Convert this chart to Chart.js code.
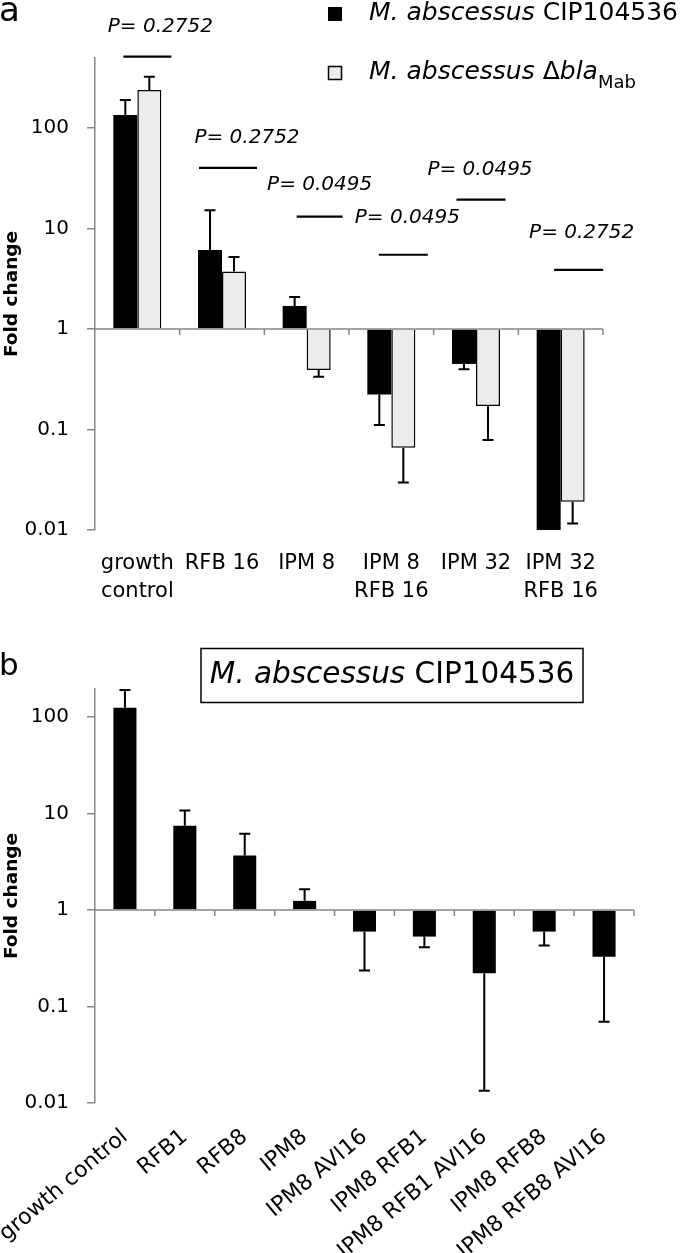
<!DOCTYPE html>
<html>
<head>
<meta charset="utf-8">
<script src="https://cdn.jsdelivr.net/npm/chart.js@4.4.1/dist/chart.umd.min.js"></script>
<style>
  html, body { margin:0; padding:0; background:#fff; }
  #wrap { position:relative; width:680px; height:1253px; overflow:hidden; }
  .panel { position:absolute; left:0; width:680px; }
  #pa { top:0; height:615px; }
  #pb { top:630px; height:623px; }
</style>
</head>
<body>
<div id="wrap">
  <div class="panel" id="pa"><canvas id="chartA"></canvas></div>
  <div class="panel" id="pb"><canvas id="chartB"></canvas></div>
</div>
<script>
// ---- panel a ----
const catsA = [['growth', 'control'], 'RFB 16', 'IPM 8', ['IPM 8', 'RFB 16'], 'IPM 32', ['IPM 32', 'RFB 16']];
const wildType = [134, 6.1, 1.69, 0.223, 0.448, 0.01];
const wildTypeErr = [189, 15.1, 2.07, 0.111, 0.397, null];   // end of error bar
const blaMutant = [237, 3.72, 0.391, 0.0657, 0.171, 0.0191];
const blaMutantErr = [322, 5.18, 0.335, 0.0297, 0.0784, 0.0116];
const pValues = ['0.2752', '0.2752', '0.0495', '0.0495', '0.0495', '0.2752'];

// ---- panel b ----
const catsB = ['growth control', 'RFB1', 'RFB8', 'IPM8', 'IPM8 AVI16', 'IPM8 RFB1', 'IPM8 RFB1 AVI16', 'IPM8 RFB8', 'IPM8 RFB8 AVI16'];
const cip = [124, 7.42, 3.65, 1.24, 0.596, 0.529, 0.221, 0.596, 0.328];
const cipErr = [189, 10.7, 6.13, 1.64, 0.235, 0.41, 0.0134, 0.427, 0.0696];

const yTicks = [0.01, 0.1, 1, 10, 100];
const yTickText = ['0.01', '0.1', '1', '10', '100'];

// where the P brackets sit (level in data units, shifts in px)
const pLineAt = [510, 40, 13.1, 5.46, 19.3, 3.87];
const pLineDx = [10, 6, 13, 12, 5, 18];
const pLineW = [48, 58, 46, 49, 49, 49];
const pTextDx = [23, 25, 13, 16, 4, 21];
const pTextDy = [-30, -30, -32, -37, -30, -37];

const FONT = '"DejaVu Sans"';
const AXIS = '#868686';

function font(size, style) {
  return (style || '') + ' ' + size + 'px ' + FONT;
}
function runsWidth(ctx, runs) {
  let w = 0;
  runs.forEach(r => { ctx.font = font(r.size, r.style); w += ctx.measureText(r.text).width; });
  return w;
}
function drawRuns(ctx, runs, x, y) {
  runs.forEach(r => {
    ctx.font = font(r.size, r.style);
    ctx.fillText(r.text, x, y + (r.dy || 0));
    x += ctx.measureText(r.text).width;
  });
}

function logAxis(max) {
  return {
    type: 'logarithmic',
    min: 0.01,
    max: max,
    afterBuildTicks: s => { s.ticks = yTicks.map(v => ({ value: v })); },
    afterFit: s => { s.width = 95; s.paddingTop = 0; s.paddingBottom = 0; },
    border: { display: true, color: AXIS, width: 1.5 },
    grid: { drawOnChartArea: false, drawTicks: true, tickLength: 8, color: AXIS, lineWidth: 1.5 },
    ticks: {
      color: '#000',
      font: { family: FONT, size: 20 },
      padding: 18,
      callback: v => { const i = yTicks.indexOf(v); return i < 0 ? '' : yTickText[i]; }
    },
    title: {
      display: true, text: 'Fold change', color: '#000',
      font: { family: FONT, size: 18.5, weight: 'bold' },
      padding: { top: 1, bottom: 0 }
    }
  };
}

// error bars: one-sided, from bar end to the stored end value
const errorBars = {
  id: 'errorBars',
  afterDatasetsDraw(chart) {
    const ctx = chart.ctx, ys = chart.scales.y;
    chart.data.datasets.forEach((ds, i) => {
      const meta = chart.getDatasetMeta(i);
      meta.data.forEach((bar, j) => {
        const e = ds.errorEnds[j];
        if (e == null) return;
        const ye = ys.getPixelForValue(e);
        ctx.save();
        ctx.strokeStyle = '#000';
        ctx.lineWidth = 2;
        ctx.beginPath();
        ctx.moveTo(bar.x, bar.y);
        ctx.lineTo(bar.x, ye);
        ctx.moveTo(bar.x - 5.5, ye);
        ctx.lineTo(bar.x + 5.5, ye);
        ctx.stroke();
        ctx.restore();
      });
    });
  }
};

// category axis line crossing at 1
const axisAtOne = {
  id: 'axisAtOne',
  afterDatasetsDraw(chart) {
    const ctx = chart.ctx, xs = chart.scales.x, ys = chart.scales.y;
    const y = ys.getPixelForValue(1);
    const n = chart.data.labels.length;
    ctx.save();
    ctx.strokeStyle = AXIS;
    ctx.lineWidth = 1.5;
    ctx.beginPath();
    ctx.moveTo(chart.chartArea.left, y);
    ctx.lineTo(chart.chartArea.right, y);
    for (let i = 1; i <= n; i++) {
      const x = xs.getPixelForValue(i - 0.5);
      ctx.moveTo(x, y);
      ctx.lineTo(x, y + 6);
    }
    ctx.stroke();
    ctx.restore();
  }
};

const decorA = {
  id: 'decorA',
  afterDraw(chart) {
    const ctx = chart.ctx, xs = chart.scales.x, ys = chart.scales.y;
    ctx.save();
    ctx.fillStyle = '#000';
    // panel letter
    ctx.textBaseline = 'alphabetic';
    ctx.font = font(34);
    ctx.fillText('a', -1, 21);

    // P value brackets
    ctx.strokeStyle = '#000';
    ctx.lineWidth = 2.2;
    pValues.forEach((p, i) => {
      const cx = xs.getPixelForValue(i);
      const ly = ys.getPixelForValue(pLineAt[i]);
      const lx = cx + pLineDx[i];
      ctx.beginPath();
      ctx.moveTo(lx - pLineW[i] / 2, ly);
      ctx.lineTo(lx + pLineW[i] / 2, ly);
      ctx.stroke();
      ctx.font = font(20, 'italic');
      ctx.textAlign = 'center';
      ctx.textBaseline = 'middle';
      ctx.fillText('P= ' + p, cx + pTextDx[i], ly + pTextDy[i]);
    });

    // legend
    ctx.textAlign = 'left';
    ctx.textBaseline = 'middle';
    const ds = chart.data.datasets;
    ctx.fillStyle = ds[0].backgroundColor;
    ctx.fillRect(328, 7, 14, 14);
    ctx.fillStyle = ds[1].backgroundColor;
    ctx.fillRect(328.5, 66.5, 13, 13);
    ctx.strokeStyle = '#000';
    ctx.lineWidth = 1.5;
    ctx.strokeRect(328.5, 66.5, 13, 13);
    ctx.fillStyle = '#000';
    drawRuns(ctx, [
      { text: 'M. abscessus', size: 25, style: 'italic' },
      { text: ' CIP104536', size: 25 }
    ], 369, 13.5);
    drawRuns(ctx, [
      { text: 'M. abscessus ', size: 25, style: 'italic' },
      { text: '\u0394', size: 25 },
      { text: 'bla', size: 25, style: 'italic' },
      { text: 'Mab', size: 18, dy: 11 }
    ], 369, 72);
    ctx.restore();
  }
};

const decorB = {
  id: 'decorB',
  afterDraw(chart) {
    const ctx = chart.ctx;
    ctx.save();
    ctx.fillStyle = '#000';
    ctx.textBaseline = 'alphabetic';
    ctx.font = font(31);
    ctx.fillText('b', -1, 45);

    // strain box
    ctx.strokeStyle = '#000';
    ctx.lineWidth = 1.5;
    ctx.strokeRect(201, 18.5, 382, 54);
    const runs = [
      { text: 'M. abscessus', size: 29.5, style: 'italic' },
      { text: ' CIP104536', size: 29.5 }
    ];
    const w = runsWidth(ctx, runs);
    ctx.textBaseline = 'middle';
    drawRuns(ctx, runs, 392 - w / 2, 45.5);
    ctx.restore();
  }
};

Chart.defaults.font.family = FONT;

new Chart(document.getElementById('chartA'), {
  type: 'bar',
  data: {
    labels: catsA,
    datasets: [
      {
        label: 'M. abscessus CIP104536', data: wildType, errorEnds: wildTypeErr, base: 1,
        backgroundColor: '#000000', borderColor: '#000', borderWidth: 0,
        categoryPercentage: 0.567, barPercentage: 1
      },
      {
        label: 'M. abscessus \u0394blaMab', data: blaMutant, errorEnds: blaMutantErr, base: 1,
        backgroundColor: '#ececec', borderColor: '#000', borderWidth: 1.5,
        categoryPercentage: 0.567, barPercentage: 1
      }
    ]
  },
  options: {
    responsive: true,
    maintainAspectRatio: false,
    animation: false,
    layout: { padding: { top: 58, left: 0, right: 77, bottom: 0 } },
    plugins: { legend: { display: false }, tooltip: { enabled: false } },
    scales: {
      x: {
        afterFit: s => { s.height = 85; s.paddingLeft = 0; s.paddingRight = 0; },
        border: { display: false },
        grid: { display: false, drawTicks: false },
        ticks: {
          color: '#000', font: { family: FONT, size: 21, lineHeight: 1.35 },
          padding: 19, maxRotation: 0, autoSkip: false
        }
      },
      y: logAxis(494)
    }
  },
  plugins: [axisAtOne, errorBars, decorA]
});

new Chart(document.getElementById('chartB'), {
  type: 'bar',
  data: {
    labels: catsB,
    datasets: [
      {
        label: 'M. abscessus CIP104536', data: cip, errorEnds: cipErr, base: 1,
        backgroundColor: '#000000', borderWidth: 0,
        categoryPercentage: 1, barPercentage: 0.385
      }
    ]
  },
  options: {
    responsive: true,
    maintainAspectRatio: false,
    animation: false,
    layout: { padding: { top: 59, left: 0, right: 46, bottom: 0 } },
    plugins: { legend: { display: false }, tooltip: { enabled: false } },
    scales: {
      x: {
        afterFit: s => { s.height = 150; s.paddingLeft = 0; s.paddingRight = 0; },
        border: { display: false },
        grid: { display: false, drawTicks: false },
        ticks: {
          color: '#000', font: { family: FONT, size: 22 },
          padding: 21, labelOffset: 0, minRotation: 40, maxRotation: 40, autoSkip: false
        }
      },
      y: logAxis(194)
    }
  },
  plugins: [axisAtOne, errorBars, decorB]
});
</script>
</body>
</html>
